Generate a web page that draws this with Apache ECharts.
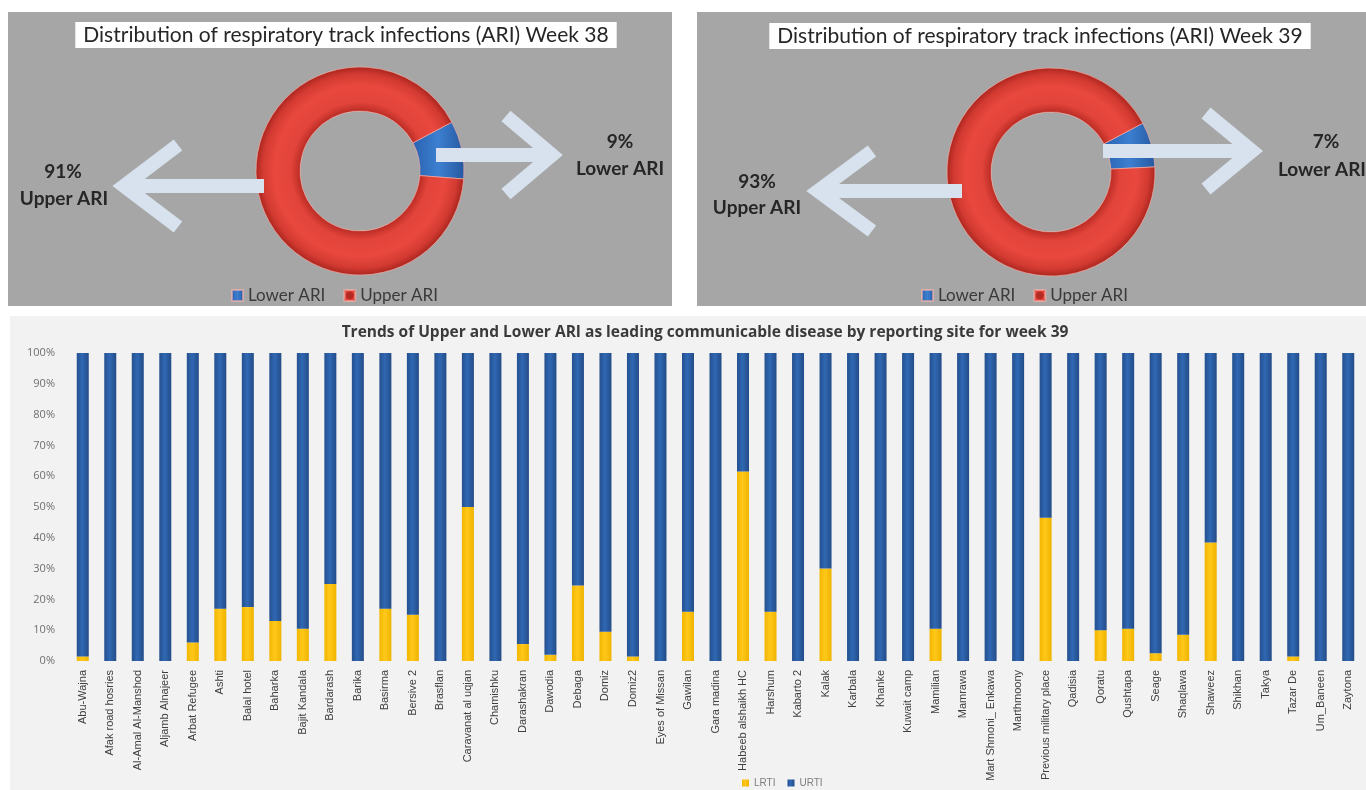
<!DOCTYPE html>
<html>
<head>
<meta charset="utf-8">
<script src="https://cdn.jsdelivr.net/npm/echarts@6/dist/echarts.min.js"></script>
<style>
html,body{margin:0;padding:0;background:#ffffff;}
#chart{width:1366px;height:790px;}
</style>
</head>
<body>
<div id="chart"></div>
<script>
// ---------- data ----------
const ariNames = ['Lower ARI', 'Upper ARI'];
const week38 = [9, 91];
const week39 = [7, 93];

const sites = [
  'Abu-Wajna', 'Afak road hosries', 'Al-Amal Al-Manshod', 'Aljamb Alnajeer', 'Arbat Refugee',
  'Ashti', 'Balal hotel', 'Baharka', 'Bajit Kandala', 'Bardarash',
  'Barika', 'Basirma', 'Bersive 2', 'Brasflan', 'Caravanat al uqjan',
  'Chamishku', 'Darashakran', 'Dawodia', 'Debaga', 'Domiz',
  'Domiz2', 'Eyes of Missan', 'Gawilan', 'Gara madina', 'Habeeb alshaikh HC',
  'Harshum', 'Kabarto 2', 'Kalak', 'Karbala', 'Khanke',
  'Kuwait camp', 'Mamilian', 'Mamrawa', 'Mart Shmoni_ Enkawa', 'Marthmoony',
  'Previous military place', 'Qadisia', 'Qoratu', 'Qushtapa', 'Seage',
  'Shaqlawa', 'Shaweez', 'Shikhan', 'Takya', 'Tazar De',
  'Um_Baneen', 'Zaytona'
];
const lrti = [
  1.5, 0, 0, 0, 6,
  17, 17.5, 13, 10.5, 25,
  0, 17, 15, 0, 50,
  0, 5.5, 2, 24.5, 9.5,
  1.5, 0, 16, 0, 61.5,
  16, 0, 30, 0, 0,
  0, 10.5, 0, 0, 0,
  46.5, 0, 10, 10.5, 2.5,
  8.5, 38.5, 0, 0, 1.5,
  0, 0
];
const urti = [
  98.5, 100, 100, 100, 94,
  83, 82.5, 87, 89.5, 75,
  100, 83, 85, 100, 50,
  100, 94.5, 98, 75.5, 90.5,
  98.5, 100, 84, 100, 38.5,
  84, 100, 70, 100, 100,
  100, 89.5, 100, 100, 100,
  53.5, 100, 90, 89.5, 97.5,
  91.5, 61.5, 100, 100, 98.5,
  100, 100
];
const yTickValues = [0, 10, 20, 30, 40, 50, 60, 70, 80, 90, 100];

// ---------- styles ----------
const FONT = 'Lato, "Open Sans", sans-serif';
const redRing = {
  type: 'radial', x: 0.5, y: 0.5, r: 0.5,
  colorStops: [
    {offset: 0, color: '#b02a22'},
    {offset: 0.57, color: '#b82c24'},
    {offset: 0.66, color: '#e2433a'},
    {offset: 0.82, color: '#e8483e'},
    {offset: 0.93, color: '#d33a31'},
    {offset: 1, color: '#a8261f'}
  ]
};
const blueSlice = {
  type: 'linear', x: 0, y: 0, x2: 1, y2: 0,
  colorStops: [{offset: 0, color: '#2a62b0'}, {offset: 0.5, color: '#3c7fd0'}, {offset: 1, color: '#2558a0'}]
};
const blueBar = {
  type: 'linear', x: 0, y: 0, x2: 1, y2: 0,
  colorStops: [{offset: 0, color: '#24508f'}, {offset: 0.45, color: '#3068b3'}, {offset: 1, color: '#234c88'}]
};
const yellowBar = {
  type: 'linear', x: 0, y: 0, x2: 1, y2: 0,
  colorStops: [{offset: 0, color: '#f2b600'}, {offset: 0.45, color: '#ffc81a'}, {offset: 1, color: '#efb300'}]
};
const ARROW = '#d8e2ef';

function arrow(stem, head) {
  return [
    {type: 'polyline', z: 100, shape: {points: stem}, style: {stroke: ARROW, lineWidth: 14, fill: null, lineCap: 'butt'}},
    {type: 'polyline', z: 100, shape: {points: head}, style: {stroke: ARROW, lineWidth: 14, fill: null, lineJoin: 'miter', lineCap: 'butt'}}
  ];
}
function label(text, x, y, align) {
  return {type: 'text', z: 100, x: x, y: y,
    style: {text: text, fill: '#262626', font: 'bold 19px ' + FONT, align: align || 'center', verticalAlign: 'middle'}};
}

function pieSeries(values, center, startAngle) {
  return {
    type: 'pie', center: center, radius: [60, 104], startAngle: startAngle, clockwise: true,
    silent: true, label: {show: false}, labelLine: {show: false},
    itemStyle: {borderColor: 'rgba(255,180,170,0.6)', borderWidth: 1},
    data: ariNames.map((n, i) => ({name: n, value: values[i], itemStyle: {color: i === 0 ? blueSlice : redRing}}))
  };
}

const topTitle = {fontFamily: FONT, fontSize: 21, fontWeight: 'normal', color: '#262626', lineHeight: 24};

const chart = echarts.init(document.getElementById('chart'), null, {renderer: 'canvas'});
chart.setOption({
  animation: false,
  backgroundColor: '#ffffff',
  textStyle: {fontFamily: FONT},
  title: [
    {text: 'Distribution of respiratory track infections (ARI) Week 38', left: 338, top: 22, textAlign: 'center',
     backgroundColor: '#ffffff', padding: [1, 8], textStyle: topTitle},
    {text: 'Distribution of respiratory track infections (ARI) Week 39', left: 1032, top: 23, textAlign: 'center',
     backgroundColor: '#ffffff', padding: [1, 8], textStyle: topTitle},
    {text: 'Trends of Upper and Lower ARI as leading communicable disease by reporting site for week 39',
     left: 700, top: 320, textAlign: 'center',
     textStyle: {fontFamily: '"Open Sans", sans-serif', fontSize: 15.5, fontWeight: 'bold', color: '#3a3a3a'}}
  ],
  legend: [
    {data: ariNames, left: 226, top: 282, itemWidth: 11, itemHeight: 11, itemGap: 18, icon: 'rect',
     textStyle: {fontFamily: FONT, fontSize: 17, color: '#3a3a3a'}},
    {data: ariNames, left: 916, top: 282, itemWidth: 11, itemHeight: 11, itemGap: 18, icon: 'rect',
     textStyle: {fontFamily: FONT, fontSize: 17, color: '#3a3a3a'}},
    {data: ['LRTI', 'URTI'], left: 737, top: 773, itemWidth: 7, itemHeight: 7, itemGap: 12, icon: 'rect',
     textStyle: {fontFamily: '"Liberation Sans Narrow", sans-serif', fontSize: 10, color: '#7f7f7f'}}
  ],
  grid: {left: 69, top: 353, width: 1293, height: 308, containLabel: false},
  xAxis: {
    type: 'category', data: sites,
    axisLine: {show: false}, axisTick: {show: false},
    axisLabel: {rotate: 90, interval: 0, margin: 9, fontSize: 11, color: '#404040',
      fontFamily: '"Liberation Sans Narrow", sans-serif'}
  },
  yAxis: {
    type: 'value', min: 0, max: 100, interval: 10,
    splitLine: {show: false}, axisLine: {show: false}, axisTick: {show: false},
    axisLabel: {formatter: v => (yTickValues.indexOf(v) >= 0 ? v + '%' : ''), fontSize: 11, color: '#6f6f6f', margin: 14,
      fontFamily: '"Open Sans", sans-serif'}
  },
  series: [
    pieSeries(week38, [360, 171], 28),
    pieSeries(week39, [1051, 172], 28),
    {name: 'LRTI', type: 'bar', stack: 'ari', barWidth: 12, data: lrti, itemStyle: {color: yellowBar}, color: '#ffc000'},
    {name: 'URTI', type: 'bar', stack: 'ari', barWidth: 12, data: urti, itemStyle: {color: blueBar}, color: '#2d5fa6'}
  ],
  graphic: [
    {type: 'rect', z: -10, shape: {x: 8, y: 12, width: 664, height: 294}, style: {fill: '#a6a6a6'}},
    {type: 'rect', z: -10, shape: {x: 697, y: 12, width: 669, height: 294}, style: {fill: '#a6a6a6'}},
    {type: 'rect', z: -10, shape: {x: 10, y: 316, width: 1356, height: 474}, style: {fill: '#f2f2f2'}},
    ...arrow([[264, 186], [124, 186]], [[178, 145], [124, 186], [178, 227]]),
    ...arrow([[436, 155], [552, 155]], [[506, 116], [552, 155], [506, 194]]),
    ...arrow([[962, 191], [818, 191]], [[872, 151], [818, 191], [872, 231]]),
    ...arrow([[1103, 151], [1252, 151]], [[1206, 113], [1252, 151], [1206, 189]]),
    label(week38[1] + '%', 63, 172),
    label(ariNames[1], 64, 199),
    label(week38[0] + '%', 620, 142),
    label(ariNames[0], 620, 169),
    label(week39[1] + '%', 757, 182),
    label(ariNames[1], 757, 208),
    label(week39[0] + '%', 1326, 142),
    label(ariNames[0], 1366, 170, 'right')
  ]
});
</script>
</body>
</html>
